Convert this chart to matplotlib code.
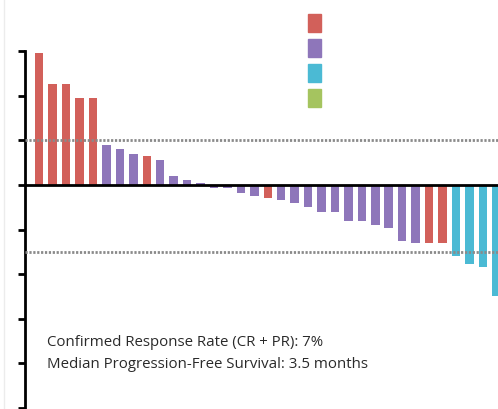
import matplotlib.pyplot as plt
from matplotlib.patches import Patch
from matplotlib.lines import Line2D

# best % change from baseline in tumour size, one bar per patient (sorted)
change = [59, 45, 45, 39, 39, 18, 16, 14, 13, 11, 4, 2, 1, -1.5, -1.5, -3.5, -5,
          -6, -7, -8, -10, -12, -12, -16, -16, -18, -19.5, -25, -26, -26, -26,
          -32, -35.5, -37, -50]
group = ['r', 'r', 'r', 'r', 'r', 'p', 'p', 'p', 'r', 'p', 'p', 'p', 'p', 'p',
         'p', 'p', 'p', 'r', 'p', 'p', 'p', 'p', 'p', 'p', 'p', 'p', 'p', 'p',
         'p', 'r', 'r', 'c', 'c', 'c', 'c']
palette = {'r': '#d2605a', 'p': '#8e76ba', 'c': '#4bbad4', 'g': '#a5c45f'}
legend_keys = ['r', 'p', 'c', 'g']
yticks = [-100, -80, -60, -40, -20, 0, 20, 40, 60]
thresholds = [20, -30]
notes = ["Confirmed Response Rate (CR + PR): 7%",
         "Median Progression-Free Survival: 3.5 months"]

fig = plt.figure(figsize=(4.98, 4.09), dpi=100)
ax = fig.add_axes([25 / 498, 1 / 409, 473 / 498, 357 / 409])

x = range(len(change))
ax.bar(x, change, width=0.63, color=[palette[g] for g in group], zorder=2)

for t in thresholds:
    ax.axhline(t, color='#8a8a8a', lw=2, ls=(0, (0.8, 0.6)), zorder=3)
ax.axhline(0, color='black', lw=2, zorder=4)

ax.set_xlim(-1.06, 34.13)
ax.set_ylim(-100, 60)
ax.set_yticks(yticks)
ax.set_yticklabels([])
ax.set_xticks([])
for side in ['top', 'right', 'bottom']:
    ax.spines[side].set_visible(False)
ax.spines['left'].set_linewidth(2)
ax.tick_params(axis='y', length=5, width=2, direction='out')

# faint page border on the left
fig.add_artist(Line2D([3.5 / 498, 3.5 / 498], [0, 1], color='#ececec', lw=1))

for i, s in enumerate(notes):
    fig.text(47 / 498, 1 - (343 + 21 * i) / 409, s, fontsize=10.8,
             family='Open Sans', color='#2a2a2a', va='center')

handles = [Patch(color=palette[k]) for k in legend_keys]
fig.legend(handles, [''] * 4, loc='upper left',
           bbox_to_anchor=(294 / 498, 1), frameon=False,
           fontsize=10, handlelength=0.93, handleheight=1.62,
           labelspacing=0.5, handletextpad=0, borderpad=0.5)

fig.savefig('out.png', dpi=100)
